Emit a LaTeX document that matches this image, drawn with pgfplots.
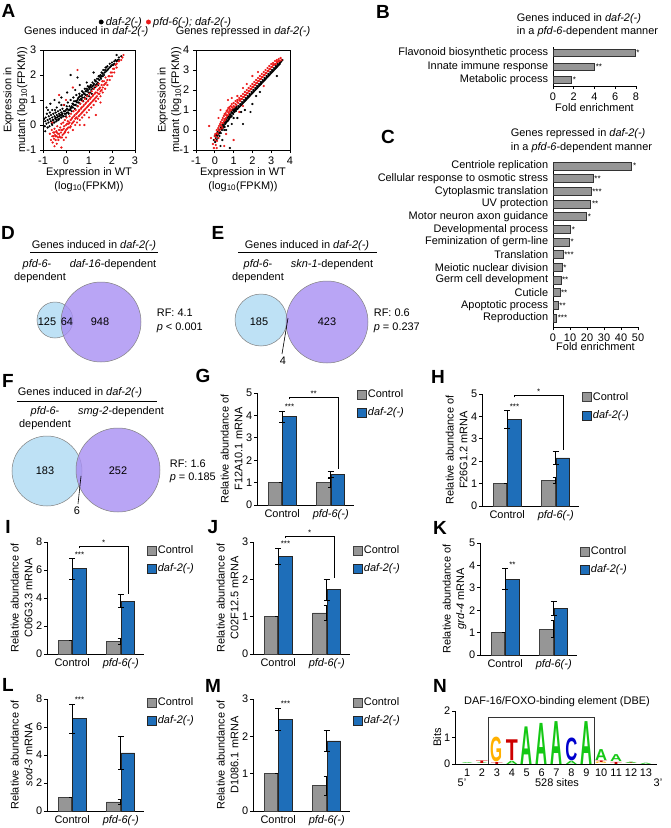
\documentclass[border=0pt,11pt]{standalone}
\usepackage{fontspec}
\setmainfont{Liberation Sans}
\usepackage{graphicx}
\usepackage{pgfplots}
\pgfplotsset{compat=1.18}
\definecolor{bgray}{RGB}{150,150,150}
\definecolor{bblue}{RGB}{30,110,185}
\definecolor{vblue}{RGB}{190,225,245}
\definecolor{vpurp}{RGB}{168,142,242}
\definecolor{sred}{RGB}{235,25,25}
\definecolor{lgA}{RGB}{20,200,20}
\definecolor{lgC}{RGB}{0,0,205}
\definecolor{lgG}{RGB}{255,176,0}
\definecolor{lgT}{RGB}{205,0,0}
\tikzset{stars/.style={font=\scriptsize, anchor=south, inner sep=0.5pt}}
\pgfplotsset{
  every axis/.append style={/pgf/number format/assume math mode=true,
    axis line style={line width=0.8pt,-}, tick style={line width=0.7pt,black},
    major tick length=3pt, tick align=outside},
  sqleg/.style={legend image code/.code={\draw[##1,line width=0.6pt] (0pt,-4.5pt) rectangle (9pt,4.5pt);}},
  barpanel/.style={scale only axis, anchor=south west, width=97pt, height=112pt,
    axis x line*=bottom, axis y line*=left,
    xmin=-0.52, xmax=1.48, xtick={0,1}, xticklabels={Control,\textit{pfd-6(-)}},
    x tick style={draw=none}, xticklabel style={yshift=2.5pt}, yticklabel style={inner xsep=1.5pt}, ymin=0, clip=false,
    ylabel style={at={(axis description cs:-0.262,0.5)}, anchor=center, align=center},
    error bars/y dir=both, error bars/y explicit,
    error bars/error bar style={line width=0.7pt,black},
    error bars/error mark options={rotate=90, mark size=3pt, line width=0.7pt, black},
    legend cell align=left},
  barleg/.style={legend style={at={(axis description cs:1.03,#1)}, anchor=north west, draw=none, fill=none,
    inner sep=0pt, row sep=5.5pt, nodes={inner sep=1.2pt, text height=8pt, text depth=2.5pt}}},
  gbar/.style={ybar, bar width=13.5pt, bar shift=-7.25pt, fill=bgray, draw=black!75, line width=0.6pt, sqleg},
  bbar/.style={ybar, bar width=13.5pt, bar shift=7.25pt, fill=bblue, draw=black!85, line width=0.6pt, sqleg},
  brk/.style={black, line width=0.7pt, no marks, forget plot},
  dots/.style={only marks, mark=*, mark size=0.9pt, forget plot},
}
\begin{document}
\begin{tikzpicture}[x=1pt,y=1pt]
\useasboundingbox (0,0) rectangle (670,-828);
% panel letters
\foreach \l/\x/\y in {A/8.5/11, B/383/12, C/388/137, D/8/233, E/218/233, F/8/381, G/203/376, H/438/377, I/8/527, J/213/527, K/440/528, L/8/685, M/213/686, N/440/686}
  \node[font=\fontsize{19}{19}\selectfont\bfseries] at (\x,-\y) {\l};

% ---------------- A left
\begin{axis}[scale only axis, at={(43pt,-150pt)}, anchor=south west, width=92pt, height=100pt,
  xmin=-1,xmax=3,ymin=-1,ymax=3, xtick={-1,0,1,2,3}, ytick={-1,0,1,2,3}, xtick pos=left, ytick pos=left,
  title={Genes induced in \textit{daf-2(-)}}, title style={at={(axis description cs:0.47,1.12)}, anchor=center},
  xlabel={Expression in WT\\(log\textsubscript{10}(FPKM))}, xlabel style={at={(axis description cs:0.5,-0.295)}, anchor=center, align=center},
  ylabel={Expression in\\mutant (log\textsubscript{10}(FPKM))}, ylabel style={at={(axis description cs:-0.30,0.5)}, anchor=center, align=center},
  legend columns=2, legend style={at={(axis description cs:1.34,1.28)}, anchor=center, draw=none, fill=none, inner sep=0pt,
    nodes={inner xsep=2.5pt, inner ysep=1pt}, /tikz/every even column/.append style={column sep=2pt}}]
\addlegendimage{only marks, mark=*, mark size=2.2pt, black}\addlegendentry{\textit{daf-2(-)}}
\addlegendimage{only marks, mark=*, mark size=2.2pt, sred}\addlegendentry{\textit{pfd-6(-); daf-2(-)}}
\addplot[dots, black] coordinates {
(-0.92,-0.05)(-0.9,0.15)(-0.88,0.3)(-0.85,0.05)(-0.83,0.45)(-0.8,-0.1)(-0.8,0.2)(-0.78,0.6)(-0.76,0.1)(-0.75,0.35)
(-0.72,-0.05)(-0.7,0.25)(-0.7,0.5)(-0.68,0.85)(-0.66,0.15)(-0.65,0.4)(-0.62,0.05)(-0.6,0.3)(-0.6,0.6)(-0.58,0.2)
(-0.55,0.45)(-0.53,0.1)(-0.5,0.35)(-0.5,1.0)(-0.48,0.6)(-0.46,0.25)(-0.45,0.5)(-0.42,0.15)(-0.4,0.4)(-0.4,0.7)
(-0.38,0.3)(-0.35,0.55)(-0.33,0.2)(-0.3,0.45)(-0.3,0.9)(-0.28,0.35)(-0.25,0.6)(-0.22,0.3)(-0.2,0.5)(-0.2,0.8)
(-0.18,0.4)(-0.15,0.65)(-0.12,0.35)(-0.1,0.55)(-0.08,0.8)(-0.05,0.45)(0,0.6)(0,0.35)(0.03,0.75)(0.05,0.5)
(0.08,0.9)(0.1,0.6)(0.12,0.45)(0.15,0.75)(0.18,0.6)(0.2,1.0)(0.2,2.0)(0.22,0.7)(0.25,0.55)(0.28,0.85)
(0.3,0.7)(0.32,1.1)(0.35,0.8)(0.38,0.65)(0.4,0.95)(0.42,0.8)(0.45,1.2)(0.48,0.9)(0.5,0.75)(0.5,1.9)
(0.52,1.05)(0.55,0.9)(0.58,1.25)(0.6,1.0)(0.62,0.85)(0.65,1.15)(0.68,1.0)(0.7,1.35)(0.72,1.1)(0.75,0.95)
(0.78,1.25)(0.8,1.1)(0.82,1.45)(0.85,1.2)(0.88,1.05)(0.9,1.35)(0.92,1.2)(0.95,1.55)(0.98,1.3)(1.0,1.15)
(1.02,1.45)(1.05,1.3)(1.08,1.6)(1.1,1.4)(1.12,1.25)(1.15,1.55)(1.18,1.45)(1.2,2.1)(1.22,1.65)(1.25,1.5)
(1.28,1.75)(1.3,1.6)(1.35,1.85)(1.38,1.7)(1.4,1.6)(1.42,1.95)(1.45,1.8)(1.5,2.0)(1.52,1.85)(1.55,2.1)
(1.6,1.95)(1.62,2.2)(1.68,2.1)(1.72,2.3)(1.75,2.15)(1.8,2.35)(1.85,2.25)(1.9,2.45)(1.95,2.35)(2.0,2.5)
(2.05,2.4)(2.1,2.55)(2.15,2.6)(2.2,2.8)(2.25,2.6)(2.3,2.7)(2.4,2.75)(-0.85,0.7)(0.05,1.3)
(-0.6,0.0)(-0.55,0.2)(-0.5,0.1)(-0.45,0.3)(-0.4,0.2)(-0.35,0.35)(-0.3,0.25)(-0.25,0.4)(-0.2,0.3)(-0.15,0.45)
(-0.1,0.35)(-0.05,0.55)(0.0,0.45)(0.05,0.65)(0.1,0.5)(0.15,0.6)(0.2,0.65)(0.25,0.75)(0.3,0.85)(0.35,0.95)
(0.4,0.8)(0.45,0.95)(0.5,1.0)(0.55,1.1)(0.6,1.15)(0.65,1.05)(0.7,1.2)(0.75,1.3)(0.8,1.25)(0.85,1.35)
(0.9,1.45)(0.95,1.4)(1.0,1.5)(1.05,1.55)(1.1,1.5)(1.15,1.7)(1.2,1.6)(1.25,1.8)(1.3,1.75)(1.35,1.65)
(1.4,1.85)(1.45,1.95)(1.5,1.9)(1.55,1.95)(1.6,2.05)(1.65,2.0)(1.7,2.2)(1.75,2.3)(1.8,2.2)(1.9,2.3)
(2.0,2.4)(2.1,2.45)(2.2,2.55)(2.3,2.6)(-0.95,0.25)(-0.9,-0.25)(0.6,1.6)(0.9,1.7)(-0.2,1.1)(0.4,1.4)};
\addplot[dots, sred] coordinates {
(-0.7,-0.35)(-0.65,-0.6)(-0.62,-0.2)(-0.6,-0.45)(-0.58,-0.7)(-0.55,-0.3)(-0.52,-0.55)(-0.5,-0.15)(-0.5,-0.85)(-0.48,-0.4)
(-0.45,-0.6)(-0.42,-0.25)(-0.4,-0.45)(-0.38,-0.05)(-0.35,-0.35)(-0.33,-0.6)(-0.3,-0.2)(-0.3,1.2)(-0.28,-0.45)(-0.25,-0.1)
(-0.22,-0.3)(-0.2,-0.9)(-0.2,0.05)(-0.18,-0.5)(-0.15,-0.2)(-0.12,0.1)(-0.1,-0.35)(-0.08,-0.05)(-0.05,0.2)(-0.03,-0.25)
(0,0.0)(0,-0.5)(0.02,0.3)(0.05,-0.15)(0.08,0.15)(0.1,-0.3)(0.12,0.05)(0.15,0.35)(0.18,-0.1)(0.2,0.2)
(0.22,0.45)(0.25,0.05)(0.28,0.3)(0.3,1.5)(0.3,-0.2)(0.32,0.55)(0.35,0.15)(0.38,0.4)(0.4,0.0)(0.42,0.6)
(0.45,0.3)(0.48,0.1)(0.5,0.5)(0.5,2.2)(0.52,0.75)(0.55,0.35)(0.58,0.6)(0.6,0.2)(0.62,0.85)(0.65,0.45)
(0.68,0.7)(0.7,0.3)(0.72,0.95)(0.75,0.55)(0.78,0.8)(0.8,0.0)(0.8,0.4)(0.82,1.05)(0.85,0.65)(0.88,0.9)
(0.9,0.5)(0.92,1.15)(0.95,0.75)(0.98,1.0)(1.0,0.6)(1.02,1.25)(1.05,0.85)(1.08,1.1)(1.1,0.7)(1.12,1.35)
(1.15,0.95)(1.18,1.2)(1.2,0.8)(1.22,1.45)(1.25,1.05)(1.28,1.3)(1.3,0.4)(1.3,0.95)(1.32,1.55)(1.35,1.15)
(1.38,1.4)(1.4,1.05)(1.42,1.65)(1.45,1.25)(1.48,1.5)(1.5,1.15)(1.55,1.4)(1.58,1.75)(1.6,1.3)(1.65,1.6)
(1.7,1.45)(1.72,1.9)(1.75,1.7)(1.8,1.6)(1.85,1.95)(1.9,1.8)(1.95,2.1)(2.0,1.95)(2.05,2.25)(2.1,2.1)
(2.15,2.4)(2.2,2.3)(2.3,2.55)(2.4,2.6)(2.5,2.8)(2.45,2.7)(-0.6,0.1)(0.0,1.0)(-0.1,0.8)
(-0.55,-0.45)(-0.5,-0.3)(-0.45,-0.45)(-0.4,-0.3)(-0.35,-0.5)(-0.3,-0.35)(-0.25,-0.5)(-0.2,-0.2)(-0.15,-0.4)(-0.1,-0.15)
(-0.05,-0.3)(0.0,-0.2)(0.05,0.05)(0.1,-0.1)(0.15,0.1)(0.2,-0.05)(0.25,0.25)(0.3,0.1)(0.35,0.35)(0.4,0.25)
(0.45,0.45)(0.5,0.25)(0.55,0.55)(0.6,0.4)(0.65,0.65)(0.7,0.5)(0.75,0.75)(0.8,0.6)(0.85,0.85)(0.9,0.7)
(0.95,0.95)(1.0,0.8)(1.05,1.05)(1.1,0.9)(1.15,1.15)(1.2,1.0)(1.25,1.25)(1.3,1.1)(1.35,1.3)(1.4,1.25)
(1.45,1.45)(1.5,1.35)(1.55,1.6)(1.6,1.5)(1.65,1.75)(1.7,1.65)(1.8,1.8)(1.9,1.95)(2.0,2.1)(2.1,2.25)
(2.2,2.45)(-0.4,-0.75)(0.6,0.0)(1.0,0.3)(1.5,0.9)(-0.1,-0.6)};
\end{axis}

% ---------------- A right
\begin{axis}[scale only axis, at={(196pt,-150pt)}, anchor=south west, width=94pt, height=100pt,
  xmin=-1,xmax=4,ymin=-1,ymax=4, xtick={-1,0,1,2,3,4}, ytick={-1,0,1,2,3,4}, xtick pos=left, ytick pos=left,
  title={Genes repressed in \textit{daf-2(-)}}, title style={at={(axis description cs:0.5,1.12)}, anchor=center},
  xlabel={Expression in WT\\(log\textsubscript{10}(FPKM))}, xlabel style={at={(axis description cs:0.5,-0.295)}, anchor=center, align=center},
  ylabel={Expression in\\mutant (log\textsubscript{10}(FPKM))}, ylabel style={at={(axis description cs:-0.282,0.5)}, anchor=center, align=center}]
\addplot[dots, black] coordinates {
(-0.05,-0.5)(0,-0.3)(0.02,-0.6)(0.05,-0.4)(0.08,-0.2)(0.1,-0.5)(0.12,-0.3)(0.15,-0.1)(0.18,-0.4)(0.2,-0.2)
(0.22,0.0)(0.25,-0.3)(0.28,-0.1)(0.3,0.1)(0.3,-0.8)(0.32,-0.15)(0.35,0.15)(0.38,0.0)(0.4,0.25)(0.42,0.1)
(0.45,0.3)(0.48,0.2)(0.5,0.4)(0.52,0.15)(0.55,0.45)(0.58,0.35)(0.6,0.55)(0.62,0.4)(0.65,0.6)(0.68,0.45)
(0.7,0.65)(0.72,0.5)(0.75,0.7)(0.78,0.6)(0.8,0.8)(0.8,-0.9)(0.82,0.65)(0.85,0.75)(0.88,0.9)(0.9,0.7)
(0.92,0.85)(0.95,1.0)(0.98,0.8)(1.0,0.95)(1.02,1.05)(1.05,0.9)(1.08,1.0)(1.1,1.1)(1.12,0.95)(1.15,1.15)
(1.2,1.05)(1.25,1.2)(1.3,1.15)(1.35,1.3)(1.4,1.25)(1.45,1.4)(1.5,1.35)(1.5,0.3)(1.55,1.5)(1.6,1.45)
(1.65,1.6)(1.7,1.55)(1.75,1.7)(1.8,1.65)(1.85,1.8)(1.9,1.75)(1.9,0.9)(1.95,1.9)(2.0,1.85)(2.0,1.3)
(2.05,2.0)(2.1,1.95)(2.15,2.1)(2.2,2.05)(2.25,2.2)(2.3,2.15)(2.35,2.3)(2.4,2.25)(2.45,2.4)(2.5,2.35)
(2.55,2.5)(2.6,2.45)(2.65,2.6)(2.7,2.55)(2.75,2.7)(2.8,2.65)(2.85,2.8)(2.9,2.75)(2.95,2.9)(3.0,2.85)
(3.05,3.0)(3.1,2.95)(3.15,3.1)(3.2,3.05)(3.25,3.2)(3.3,3.15)(3.3,2.7)(3.35,3.3)(3.4,3.25)(3.45,3.35)
(3.5,3.4)(3.55,3.45)(3.6,3.5)(1.2,0.6)(0.6,0.0)(1.6,1.0)(2.4,1.9)(0.4,-0.5)(0.9,0.3)
(0.05,-0.25)(0.15,-0.25)(0.25,-0.15)(0.35,0.05)(0.45,0.15)(0.55,0.3)(0.65,0.45)(0.75,0.55)(0.85,0.65)(0.95,0.85)
(1.05,1.0)(1.15,1.05)(1.25,1.1)(1.35,1.2)(1.45,1.3)(1.55,1.4)(1.65,1.5)(1.75,1.6)(1.85,1.7)(1.95,1.8)
(2.05,1.9)(2.15,2.0)(2.25,2.1)(2.35,2.2)(2.45,2.3)(2.55,2.4)(2.65,2.5)(2.75,2.6)(2.85,2.7)(2.95,2.8)
(3.05,2.9)(3.15,3.0)(3.25,3.1)(3.35,3.2)(3.45,3.3)(0.5,0.0)(1.0,0.6)(1.4,0.9)(0.7,0.2)(2.2,1.7)};
\addplot[dots, sred] coordinates {
(-0.1,-0.7)(-0.05,-0.9)(0,-0.5)(0.02,-0.2)(0.05,-0.75)(0.08,-0.35)(0.1,0.0)(0.12,-0.55)(0.15,-0.2)(0.18,0.1)
(0.2,-0.4)(0.22,0.2)(0.25,-0.05)(0.28,0.3)(0.3,1.0)(0.3,0.05)(0.32,0.4)(0.35,0.2)(0.38,0.5)(0.4,0.1)
(0.42,0.6)(0.45,0.35)(0.48,0.7)(0.5,0.45)(0.5,-0.8)(0.52,0.8)(0.55,0.5)(0.58,0.85)(0.6,0.6)(0.62,0.95)
(0.65,0.7)(0.68,1.0)(0.7,1.5)(0.7,0.75)(0.72,1.1)(0.75,0.85)(0.78,1.15)(0.8,0.95)(0.85,1.2)(0.88,1.0)
(0.9,1.3)(0.95,1.1)(1.0,1.35)(1.0,-0.5)(1.05,1.15)(1.1,1.45)(1.15,1.25)(1.2,1.7)(1.2,1.5)(1.25,1.35)
(1.3,1.6)(1.35,1.45)(1.4,1.7)(1.45,1.55)(1.5,1.8)(1.55,1.65)(1.6,1.9)(1.65,1.75)(1.7,2.3)(1.7,2.0)
(1.75,1.85)(1.8,2.1)(1.85,1.95)(1.9,2.2)(1.95,2.05)(2.0,2.7)(2.0,2.3)(2.05,2.15)(2.1,2.4)(2.15,2.25)
(2.2,2.5)(2.25,2.35)(2.3,2.6)(2.35,2.45)(2.4,2.7)(2.45,2.55)(2.5,2.8)(2.55,2.65)(2.6,2.9)(2.65,2.75)
(2.7,3.0)(2.75,2.85)(2.8,3.1)(2.85,2.95)(2.9,3.2)(2.95,3.05)(3.0,3.3)(3.05,3.15)(3.1,3.35)(3.15,3.25)
(3.2,3.45)(3.25,3.3)(3.3,3.5)(3.35,3.4)(3.4,3.55)(3.45,3.45)(3.5,3.6)(3.55,3.5)(-0.3,0.2)(0.6,-0.2)
(1.3,0.9)(2.6,2.2)(0.1,-0.9)(1.5,1.2)
(0.0,-0.3)(0.1,-0.15)(0.2,0.0)(0.3,0.25)(0.4,0.35)(0.5,0.55)(0.6,0.75)(0.7,0.9)(0.8,1.05)(0.9,1.15)
(1.0,1.2)(1.1,1.3)(1.2,1.4)(1.3,1.5)(1.4,1.55)(1.5,1.65)(1.6,1.75)(1.7,1.85)(1.8,1.95)(1.9,2.05)
(2.0,2.15)(2.1,2.25)(2.2,2.35)(2.3,2.45)(2.4,2.55)(2.5,2.65)(2.6,2.75)(2.7,2.85)(2.8,2.95)(2.9,3.05)
(3.0,3.15)(3.1,3.25)(3.2,3.3)(3.3,3.4)(3.4,3.45)(0.2,0.6)(0.9,1.6)(1.5,2.1)(2.3,2.9)(-0.2,-0.4)};
\end{axis}

% ---------------- B
\node[anchor=west, align=left] at (513,-25) {Genes induced in \textit{daf-2(-)}\\in a \textit{pfd-6}-dependent manner};
\begin{axis}[scale only axis, at={(553pt,-86pt)}, anchor=south west, width=83pt, height=39pt,
  axis x line*=bottom, axis y line*=left, xmin=0, xmax=8, ymin=0.556, ymax=3.444,
  xtick={0,2,4,6,8}, ytick={1,2,3}, yticklabels={Metabolic process, Innate immune response, Flavonoid biosynthetic process},
  y tick style={draw=none}, yticklabel style={xshift=2pt}, clip=false,
  xlabel={Fold enrichment}, xlabel style={at={(axis description cs:0.5,-0.564)}, anchor=center}]
\addplot[xbar, bar width=7pt, fill=bgray, draw=black!80, line width=0.6pt,
  point meta=explicit symbolic, nodes near coords, nodes near coords style={font=\scriptsize, anchor=west, inner sep=1pt}]
  table[row sep=\\, meta=s] {x y s\\ 7.9 3 *\\ 4.0 2 **\\ 1.8 1 *\\};
\end{axis}

% ---------------- C
\node[anchor=west, align=left] at (507,-140.5) {Genes repressed in \textit{daf-2(-)}\\in a \textit{pfd-6}-dependent manner};
\begin{axis}[scale only axis, at={(553pt,-327pt)}, anchor=south west, width=85pt, height=165pt,
  axis x line*=bottom, axis y line*=left, xmin=0, xmax=50, ymin=0.29, ymax=13.32,
  xtick={0,10,20,30,40,50}, ytick={1,...,13},
  yticklabels={Reproduction, Apoptotic process, Cuticle, Germ cell development, Meiotic nuclear division, Translation, Feminization of germ-line, Developmental process, Motor neuron axon guidance, UV protection, Cytoplasmic translation, Cellular response to osmotic stress, Centriole replication},
  y tick style={draw=none}, yticklabel style={xshift=2pt}, clip=false,
  xlabel={Fold enrichment}, xlabel style={at={(axis description cs:0.5,-0.121)}, anchor=center}]
\addplot[xbar, bar width=8pt, fill=bgray, draw=black!80, line width=0.6pt,
  point meta=explicit symbolic, nodes near coords, nodes near coords style={font=\scriptsize, anchor=west, inner sep=1pt}]
  table[row sep=\\, meta=s] {x y s\\ 46.3 13 *\\ 23.6 12 **\\ 22.4 11 ***\\ 22.2 10 **\\ 19.8 9 *\\ 10.4 8 *\\ 9.6 7 *\\ 5.9 6 ***\\ 5.4 5 *\\ 4.6 4 **\\ 4.0 3 **\\ 3.0 2 **\\ 2.1 1 ***\\};
\end{axis}

% ---------------- Venn circles (D, E, F)
\begin{axis}[scale only axis, at={(0pt,-828pt)}, anchor=south west, width=670pt, height=828pt,
  xmin=0, xmax=670, ymin=-828, ymax=0, hide axis, clip=false]
\addplot[only marks, mark=*, mark size=18pt, mark options={fill=vblue, draw=black!50, line width=0.5pt}] coordinates {(55,-320)};
\addplot[only marks, mark=*, mark size=40pt, mark options={fill=vpurp, fill opacity=0.8, draw=black!50, line width=0.5pt}] coordinates {(101,-322)};
\addplot[only marks, mark=*, mark size=26pt, mark options={fill=vblue, draw=black!50, line width=0.5pt}] coordinates {(261,-320)};
\addplot[only marks, mark=*, mark size=41pt, mark options={fill=vpurp, fill opacity=0.8, draw=black!50, line width=0.5pt}] coordinates {(327,-322)};
\addplot[only marks, mark=*, mark size=35pt, mark options={fill=vblue, draw=black!50, line width=0.5pt}] coordinates {(47,-471)};
\addplot[only marks, mark=*, mark size=42pt, mark options={fill=vpurp, fill opacity=0.8, draw=black!50, line width=0.5pt}] coordinates {(118,-470)};
\end{axis}
% D text
\node at (94,-246) {Genes induced in \textit{daf-2(-)}};
\draw[line width=0.7pt] (30,-252) -- (158,-252);
\node at (37,-265) {\textit{pfd-6}-};
\node at (40,-278) {dependent};
\node at (113,-265) {\textit{daf-16}-dependent};
\node at (47,-322) {125};
\node at (67,-322) {64};
\node at (100,-322) {948};
\node[anchor=west] at (153,-313) {RF: 4.1};
\node[anchor=west] at (153,-328) {\textit{p} < 0.001};
% E text
\node at (307,-246) {Genes induced in \textit{daf-2(-)}};
\draw[line width=0.7pt] (238,-252) -- (377,-252);
\node at (258,-265) {\textit{pfd-6}-};
\node at (258,-278) {dependent};
\node at (332,-265) {\textit{skn-1}-dependent};
\node at (259,-322) {185};
\node at (327,-322) {423};
\node at (283,-361) {4};
\draw[line width=0.6pt] (288,-318) -- (282,-354);
\node[anchor=west] at (370,-313) {RF: 0.6};
\node[anchor=west] at (370,-328) {\textit{p} = 0.237};
% F text
\node at (80,-393) {Genes induced in \textit{daf-2(-)}};
\draw[line width=0.7pt] (17,-401) -- (157,-401);
\node at (45,-412) {\textit{pfd-6}-};
\node at (45,-425) {dependent};
\node at (121,-412) {\textit{smg-2}-dependent};
\node at (45,-471) {183};
\node at (118,-471) {252};
\node at (77,-511) {6};
\draw[line width=0.6pt] (81,-476) -- (78,-504);
\node[anchor=west] at (166,-464) {RF: 1.6};
\node[anchor=west] at (166,-478) {\textit{p} = 0.185};

% ---------------- G
\begin{axis}[barpanel, barleg=1.045, at={(257pt,-505pt)}, ymax=5, ytick={0,1,2,3,4,5},
  ylabel={Relative abundance of\\F12A10.1 mRNA}]
\addplot[gbar] coordinates {(0,1) +- (0,0) (1,1.0) +- (0,0.2)}; \addlegendentry{Control}
\addplot[bbar] coordinates {(0,3.95) +- (0,0.25) (1,1.37) +- (0,0.15)}; \addlegendentry{\textit{daf-2(-)}}
\addplot[brk] coordinates {(0.15,4.72) (0.15,4.82) (1.15,4.82) (1.15,1.6)};
\node[stars] at (axis cs:0.15,4.22) {***};
\node[stars] at (axis cs:0.65,4.82) {**};
\end{axis}

% ---------------- H
\begin{axis}[barpanel, barleg=1.03, at={(482pt,-506pt)}, ymax=5, ytick={0,1,2,3,4,5},
  ylabel={Relative abundance of\\F26G1.2 mRNA}]
\addplot[gbar] coordinates {(0,1) +- (0,0) (1,1.15) +- (0,0.15)}; \addlegendentry{Control}
\addplot[bbar] coordinates {(0,3.87) +- (0,0.4) (1,2.15) +- (0,0.3)}; \addlegendentry{\textit{daf-2(-)}}
\addplot[brk] coordinates {(0.15,4.85) (0.15,4.95) (1.15,4.95) (1.15,2.52)};
\node[stars] at (axis cs:0.15,4.29) {***};
\node[stars] at (axis cs:0.65,4.95) {*};
\end{axis}

% ---------------- I
\begin{axis}[barpanel, barleg=0.985, at={(47pt,-654pt)}, ymax=8, ytick={0,2,4,6,8},
  ylabel={Relative abundance of\\C06G3.3 mRNA}]
\addplot[gbar] coordinates {(0,1) +- (0,0) (1,0.9) +- (0,0.2)}; \addlegendentry{Control}
\addplot[bbar] coordinates {(0,6.1) +- (0,0.75) (1,3.78) +- (0,0.45)}; \addlegendentry{\textit{daf-2(-)}}
\addplot[brk] coordinates {(0.15,7.55) (0.15,7.7) (1.15,7.7) (1.15,4.3)};
\node[stars] at (axis cs:0.15,6.87) {***};
\node[stars] at (axis cs:0.65,7.7) {*};
\end{axis}

% ---------------- J
\begin{axis}[barpanel, barleg=0.985, at={(253pt,-654pt)}, ymax=3, ytick={0,1,2,3},
  ylabel={Relative abundance of\\C02F12.5 mRNA}]
\addplot[gbar] coordinates {(0,1) +- (0,0) (1,1.1) +- (0,0.2)}; \addlegendentry{Control}
\addplot[bbar] coordinates {(0,2.62) +- (0,0.22) (1,1.72) +- (0,0.27)}; \addlegendentry{\textit{daf-2(-)}}
\addplot[brk] coordinates {(0.15,3.1) (0.15,3.16) (1.15,3.16) (1.15,2.04)};
\node[stars] at (axis cs:0.15,2.85) {***};
\node[stars] at (axis cs:0.65,3.16) {*};
\end{axis}

% ---------------- K
\begin{axis}[barpanel, barleg=0.985, at={(480pt,-655pt)}, ymax=5, ytick={0,1,2,3,4,5},
  ylabel={Relative abundance of\\\textit{grd-4} mRNA}]
\addplot[gbar] coordinates {(0,1) +- (0,0) (1,1.15) +- (0,0.38)}; \addlegendentry{Control}
\addplot[bbar] coordinates {(0,3.38) +- (0,0.47) (1,2.08) +- (0,0.3)}; \addlegendentry{\textit{daf-2(-)}}
\node[stars] at (axis cs:0.15,3.87) {**};
\end{axis}

% ---------------- L
\begin{axis}[barpanel, barleg=1.03, at={(47pt,-811pt)}, ymax=8, ytick={0,2,4,6,8},
  ylabel={Relative abundance of\\\textit{sod-3} mRNA}]
\addplot[gbar] coordinates {(0,1) +- (0,0) (1,0.65) +- (0,0.2)}; \addlegendentry{Control}
\addplot[bbar] coordinates {(0,6.6) +- (0,1.05) (1,4.15) +- (0,1.2)}; \addlegendentry{\textit{daf-2(-)}}
\node[stars] at (axis cs:0.15,7.67) {***};
\end{axis}

% ---------------- M
\begin{axis}[barpanel, barleg=1.03, at={(253pt,-811pt)}, ymax=3, ytick={0,1,2,3},
  ylabel={Relative abundance of\\D1086.1 mRNA}]
\addplot[gbar] coordinates {(0,1) +- (0,0) (1,0.68) +- (0,0.26)}; \addlegendentry{Control}
\addplot[bbar] coordinates {(0,2.45) +- (0,0.3) (1,1.88) +- (0,0.28)}; \addlegendentry{\textit{daf-2(-)}}
\node[stars] at (axis cs:0.15,2.77) {***};
\end{axis}

% ---------------- N
\node at (557,-702) {DAF-16/FOXO-binding element (DBE)};
\begin{axis}[scale only axis, at={(455pt,-764pt)}, anchor=south west, width=202pt, height=53pt,
  axis x line*=bottom, axis y line*=left, xmin=0.19, xmax=13.74, ymin=0, ymax=2,
  xtick={1,...,13}, ytick={0,1,2}, x tick style={draw=none}, xticklabel style={yshift=2pt},
  yticklabel style={inner xsep=1.5pt}, clip=false,
  ylabel={Bits}, ylabel style={at={(axis description cs:-0.088,0.5)}, anchor=center}]
\addplot[only marks, mark=none, point meta=explicit symbolic,
  visualization depends on={\thisrow{h}\as\hh},
  visualization depends on={value \thisrow{c}\as\cc},
  nodes near coords={\resizebox{12pt}{\hh pt}{\textbf{\color{\cc}\pgfplotspointmeta}}},
  every node near coord/.append style={anchor=south, inner sep=0pt, outer sep=0pt}]
  table[x=x, y=y, meta=l, row sep=\\] {x y h l c\\
  1 0 0.9 A lgA\\
  2 0 0.8 A lgA\\
  2 0.03 2.6 T lgT\\
  3 0 2.0 T lgT\\
  3 0.08 24.4 G lgG\\
  4 0 3.2 A lgA\\
  4 0.12 20.7 T lgT\\
  5 0 37.6 A lgA\\
  6 0 41.1 A lgA\\
  7 0 42.9 A lgA\\
  8 0 3.2 A lgA\\
  8 0.12 22.5 C lgC\\
  9 0 42.9 A lgA\\
  10 0 1.6 G lgG\\
  10 0.06 1.6 T lgT\\
  10 0.12 10.9 A lgA\\
  11 0 2.1 T lgT\\
  11 0.08 6.9 A lgA\\
  12 0 0.8 T lgT\\
  12 0.03 1.3 A lgA\\
  13 0 1.3 A lgA\\
  };
\addplot[black!80, line width=0.8pt, no marks] coordinates {(2.45,0) (2.45,1.77) (9.55,1.77) (9.55,0)};
\end{axis}
\node at (462,-783) {5'};
\node at (557,-783) {528 sites};
\node at (658,-783) {3'};
\end{tikzpicture}
\end{document}
